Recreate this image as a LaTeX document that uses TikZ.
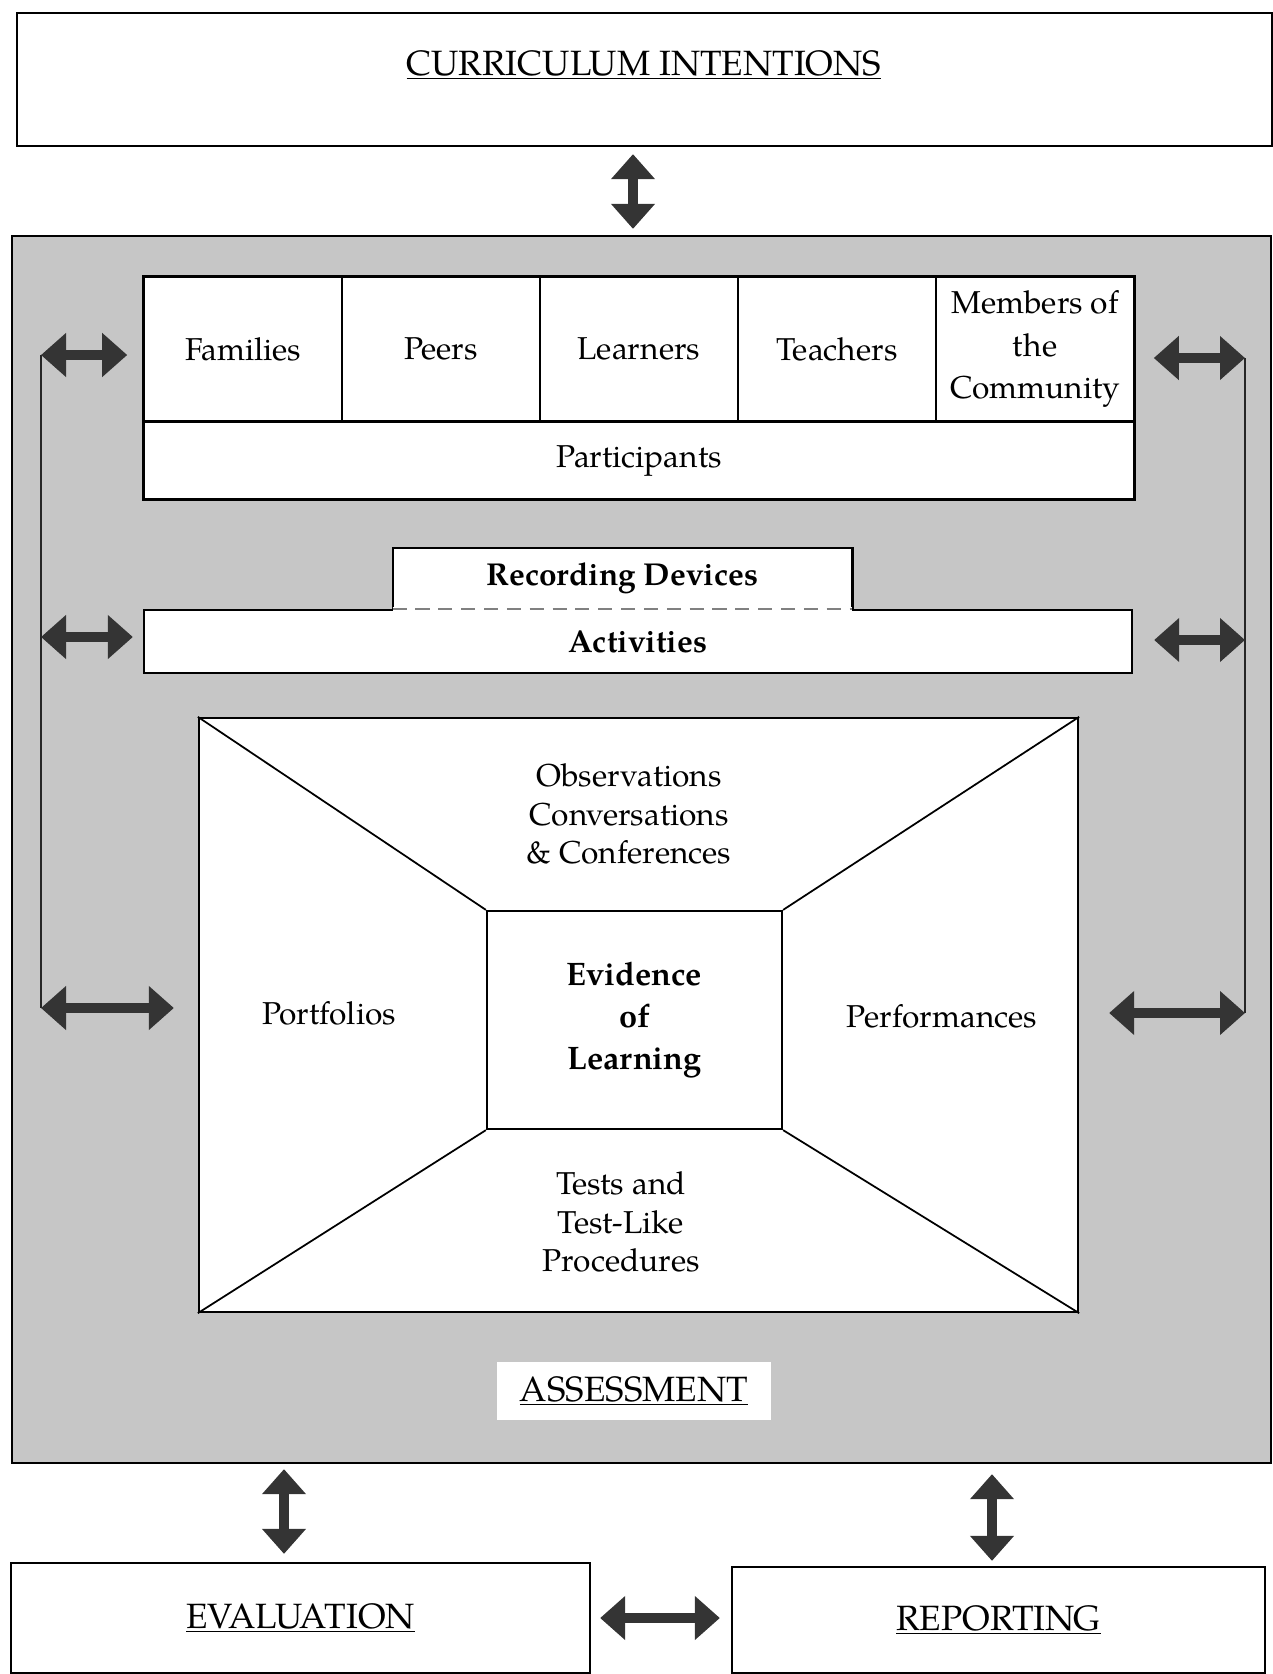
\documentclass[tikz,border=0pt]{standalone}
\usepackage{fontspec}
\setmainfont{texgyrepagella-regular.otf}[BoldFont=texgyrepagella-bold.otf]
\usepackage{tikz}
\usetikzlibrary{arrows.meta, positioning, calc}
\definecolor{ShadeGray}{RGB}{198, 198, 198}
\definecolor{ArrowGray}{RGB}{52, 52, 52}

\begin{document}
\begin{tikzpicture}[
        box/.style={rectangle, draw=black, line width=1.3pt, fill=white, inner sep=0pt},
        cell/.style={rectangle, draw=black, line width=0.9pt, fill=white, minimum width=3.96cm, minimum height=2.88cm, align=center, font=\fontsize{18}{24}\selectfont},
        txt/.style={align=center, font=\fontsize{18}{22}\selectfont},
        heading/.style={font=\fontsize{20}{24}\selectfont},
        dblarrow/.style={{Triangle[length=0.5cm, width=0.85cm]}-{Triangle[length=0.5cm, width=0.85cm]}, line width=0.2cm, ArrowGray},
        sideline/.style={line width=0.8pt, black!85}
    ]
        \useasboundingbox (0,0) rectangle (25.46,-33.48);

        % Curriculum intentions
        \node[box, minimum width=25.1cm, minimum height=2.66cm] (curr) at (12.89,-1.59) {};
        \node[heading] (currtxt) at (12.88,-1.3) {\underline{CURRICULUM INTENTIONS}};

        % Assessment area
        \node[box, fill=ShadeGray, minimum width=25.18cm, minimum height=24.54cm] (assess) at (12.83,-16.99) {};

        % Participants
        \foreach \name/\txt [count=\i] in {fam/Families, peer/Peers, lrn/Learners, tch/Teachers, mem/{Members of\\the\\Community}}
            \node[cell] (\name) at ({2.88+3.96*(\i-0.5)}, -6.98) {\txt};
        \node[cell, minimum width=19.8cm, minimum height=1.52cm, anchor=north west] (part) at (fam.south west) {Participants};
        \draw[line width=1.3pt] (fam.north west) rectangle (part.south east);

        % Recording devices on top of activities
        \node[box, minimum width=19.76cm, minimum height=1.26cm, font=\bfseries\fontsize{18}{22}\selectfont] (act) at (12.76,-12.83) {Activities};
        \node[fill=white, inner sep=0pt, minimum width=9.18cm, minimum height=1.2cm, above=0pt of act, xshift=-0.31cm, font=\bfseries\fontsize{18}{22}\selectfont] (rec) {Recording Devices};
        \draw[line width=1.3pt] (rec.south west) -- (rec.north west) -- (rec.north east) -- (rec.south east);
        \draw[white, line width=2pt] (rec.south west) -- (rec.south east);
        \draw[gray, line width=1.2pt, dash pattern=on 8pt off 5pt] (rec.south west) -- (rec.south east);

        % Evidence of learning
        \node[box, minimum width=17.58cm, minimum height=11.88cm] (frame) at (12.77,-20.30) {};
        \node[box, minimum width=5.9cm, minimum height=4.36cm] (core) at (12.69,-20.40) {};
        \draw[line width=1pt] (frame.north west) -- (core.north west);
        \draw[line width=1pt] (frame.north east) -- (core.north east);
        \draw[line width=1pt] (frame.south west) -- (core.south west);
        \draw[line width=1pt] (frame.south east) -- (core.south east);
        \node[txt, font=\bfseries\fontsize{18.5}{24}\selectfont] (evid) at (core) {Evidence\\of\\Learning};
        \node[txt] (obs) at (12.58,-16.28) {Observations\\Conversations\\\& Conferences};
        \node[txt] (port) at (6.58,-20.26) {Portfolios};
        \node[txt] (perf) at (18.84,-20.32) {Performances};
        \node[txt] (tests) at (12.42,-24.44) {Tests and\\Test-Like\\Procedures};

        % Assessment label
        \node[heading, fill=white, minimum width=5.48cm, minimum height=1.16cm] (asslbl) at (12.68,-27.82) {\underline{ASSESSMENT}};

        % Evaluation and reporting
        \node[box, heading, minimum width=11.58cm, minimum height=2.2cm] (eval) at (6.01,-32.36) {\underline{EVALUATION}};
        \node[box, heading, minimum width=10.66cm, minimum height=2.12cm] (report) at (19.97,-32.4) {\underline{REPORTING}};

        % Vertical and bottom arrows
        \draw[dblarrow, shorten <=0.14cm, shorten >=0.12cm] ([xshift=-0.23cm]curr.south) -- ([xshift=-0.23cm]curr.south |- assess.north);
        \draw[dblarrow, shorten <=0.1cm, shorten >=0.16cm] ([xshift=-0.33cm]eval.north |- assess.south) -- ([xshift=-0.33cm]eval.north);
        \draw[dblarrow, shorten <=0.2cm, shorten >=0.1cm] ([xshift=-0.13cm]report.north |- assess.south) -- ([xshift=-0.13cm]report.north);
        \draw[dblarrow, shorten <=0.18cm, shorten >=0.22cm] (eval.east) -- (eval.east -| report.west);

        % Side loops
        \coordinate (L1) at (0.82,-7.1);
        \coordinate (L2) at (0.82,-12.74);
        \coordinate (L3) at (0.82,-20.16);
        \coordinate (R1) at (24.9,-7.16);
        \coordinate (R2) at (24.9,-12.8);
        \coordinate (R3) at (24.9,-20.26);
        \draw[sideline] (L1) -- (L3);
        \draw[sideline] (R1) -- (R3);
        \draw[dblarrow, shorten >=0.32cm] (L1) -- (L1 -| fam.west);
        \draw[dblarrow, shorten >=0.2cm] (L2) -- (L2 -| act.west);
        \draw[dblarrow, shorten >=0.48cm] (L3) -- (L3 -| frame.west);
        \draw[dblarrow, shorten >=0.38cm] (R1) -- (R1 -| mem.east);
        \draw[dblarrow, shorten >=0.42cm] (R2) -- (R2 -| act.east);
        \draw[dblarrow, shorten >=0.6cm] (R3) -- (R3 -| frame.east);
    \end{tikzpicture}
\end{document}
